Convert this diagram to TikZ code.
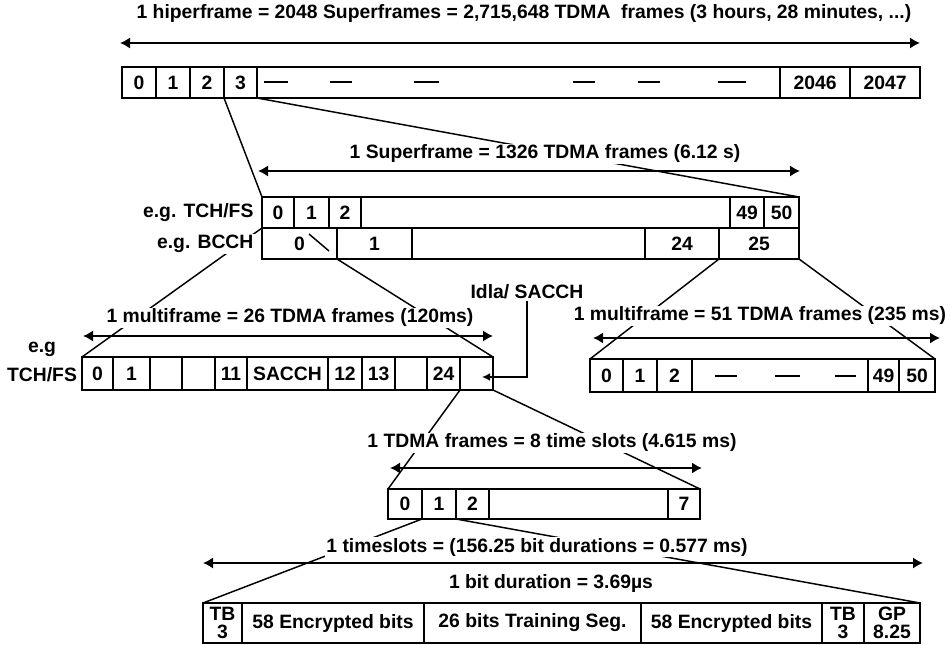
\documentclass[tikz,border=0pt]{standalone}
\usepackage{fontspec}
\setmainfont{Liberation Sans}
\usetikzlibrary{arrows.meta}
\newcommand{\cellbox}[6]{%
  \node[cellnode, minimum width={(#4-#2)*0.75pt}, minimum height={(#5-#3)*0.75pt}] (#1) at ({(#2+#4)/2},{(#3+#5)/2}) {#6};}
\begin{document}
\begin{tikzpicture}[x=0.75pt,y=-0.75pt,
  font=\fontsize{14.5}{16}\selectfont\bfseries,
  cellnode/.style={draw, line width=1.5pt, inner sep=0pt, outer sep=0pt, align=center},
  conn/.style={line width=1.1pt},
  dbl/.style={line width=1.8pt, {Latex[length=7.5pt,width=8.5pt]}-{Latex[length=7.5pt,width=8.5pt]}},
  ttl/.style={fill=white, inner sep=1pt},
  dashln/.style={line width=1.8pt}]
\useasboundingbox (0,0) rectangle (950,645);

% ---------- rows ----------
% hyperframe
\cellbox{h0}{122}{67}{156}{98}{0}
\cellbox{h1}{156}{67}{190}{98}{1}
\cellbox{h2}{190}{67}{224}{98}{2}
\cellbox{h3}{224}{67}{257}{98}{3}
\cellbox{hmid}{257}{67}{780}{98}{}
\cellbox{h2046}{780}{67}{850}{98}{2046}
\cellbox{h2047}{850}{67}{920}{98}{2047}
% superframe TCH/FS
\cellbox{s0}{262}{197}{294}{228}{0}
\cellbox{s1}{294}{197}{329}{228}{1}
\cellbox{s2}{329}{197}{361}{228}{2}
\cellbox{smid}{361}{197}{730}{228}{}
\cellbox{s49}{730}{197}{764}{228}{49}
\cellbox{s50}{764}{197}{799}{228}{50}
% superframe BCCH
\cellbox{b0}{262}{228}{337}{259}{0}
\cellbox{b1}{337}{228}{412}{259}{1}
\cellbox{bmid}{412}{228}{645}{259}{}
\cellbox{b24}{645}{228}{719}{259}{24}
\cellbox{b25}{719}{228}{799}{259}{25}
% left multiframe
\cellbox{m0}{82}{357}{113}{390}{0}
\cellbox{m1}{113}{357}{150}{390}{1}
\cellbox{m2}{150}{357}{182}{390}{}
\cellbox{m3}{182}{357}{215}{390}{}
\cellbox{m11}{215}{357}{247}{390}{11}
\cellbox{msacch}{247}{357}{328}{390}{SACCH}
\cellbox{m12}{328}{357}{362}{390}{12}
\cellbox{m13}{362}{357}{395}{390}{13}
\cellbox{m22}{395}{357}{427}{390}{}
\cellbox{m24}{427}{357}{460}{390}{24}
\cellbox{mlast}{460}{357}{493}{390}{}
% right multiframe
\cellbox{r0}{590}{359}{623}{392}{0}
\cellbox{r1}{623}{359}{657}{392}{1}
\cellbox{r2}{657}{359}{692}{392}{2}
\cellbox{rmid}{692}{359}{868}{392}{}
\cellbox{r49}{868}{359}{899}{392}{49}
\cellbox{r50}{899}{359}{935}{392}{50}
% TDMA frame
\cellbox{t0}{388}{489}{422}{519}{0}
\cellbox{t1}{422}{489}{456}{519}{1}
\cellbox{t2}{456}{489}{489}{519}{2}
\cellbox{tmid}{489}{489}{668}{519}{}
\cellbox{t7}{668}{489}{700}{519}{7}
% time slot
\cellbox{bTBa}{203}{603}{242}{643}{TB\\[-3pt]3}
\cellbox{bEa}{242}{603}{424}{643}{58 Encrypted bits}
\cellbox{bTr}{424}{603}{641}{643}{26 bits Training Seg.}
\cellbox{bEb}{641}{603}{822}{643}{58 Encrypted bits}
\cellbox{bTBb}{822}{603}{864}{643}{TB\\[-3pt]3}
\cellbox{bGP}{864}{603}{920}{643}{GP\\[-3pt]8.25}

% ---------- dashes ----------
\foreach \a/\b in {264/288,330/352,414/439,573/595,638/660,718/746}
  \draw[dashln] (\a,82) -- (\b,82);
\foreach \a/\b in {715/737,775/800,835/856}
  \draw[dashln] (\a,376) -- (\b,376);

% ---------- connectors ----------
\draw[conn] (h3.south west) -- (s0.north west);
\draw[conn] (h3.south east) -- (s50.north east);
\draw[conn] (b0.north west) -- (m0.north west);
\draw[conn] (b0.south east) -- (mlast.north east);
\draw[conn] (309,234) -- (329,251);
\draw[conn] (b24.south east) -- (r0.north west);
\draw[conn] (b25.south east) -- (r50.north east);
\draw[conn] (m24.south east) -- (t0.north west);
\draw[conn] (mlast.south east) -- (t7.north east);
\draw[conn] (t1.south west) -- (bTBa.north west);
\draw[conn] (t1.south east) -- (bGP.north east);

% ---------- titles and labels ----------
\node[ttl] (T1) at (524,14) {1 hiperframe = 2048 Superframes = 2,715,648 TDMA\ \ frames (3 hours, 28 minutes, ...)};
\node[ttl] (T2) at (545,154) {1 Superframe = 1326 TDMA frames (6.12 s)};
\node[ttl, anchor=east] (lt) at (255,213) {e.g. TCH/FS};
\node[ttl, anchor=east] (lb) at (255,244) {e.g. BCCH};
\node[ttl] (T3) at (290,318) {1 multiframe = 26 TDMA frames (120ms)};
\node[ttl] (T4) at (760,316) {1 multiframe = 51 TDMA frames (235 ms)};
\node[ttl, align=center] (eg) at (42,362) {e.g\\[6pt]TCH/FS};
\node[ttl] (idla) at (527,292) {Idla/ SACCH};
\node[ttl] (T5) at (552,443) {1 TDMA frames = 8 time slots (4.615 ms)};
\node[ttl] (T6) at (537,547) {1 timeslots = (156.25 bit durations = 0.577 ms)};
\node[ttl] (T7) at (551,584) {1 bit duration = 3.69µs};

% ---------- span arrows ----------
\coordinate (a1l) at (120,43);  \coordinate (a1r) at (920,43);
\coordinate (a2l) at (258,171); \coordinate (a2r) at (800,171);
\coordinate (a3l) at (83,336);  \coordinate (a3r) at (493,336);
\coordinate (a4l) at (593,338); \coordinate (a4r) at (940,338);
\coordinate (a5l) at (390,468); \coordinate (a5r) at (702,468);
\coordinate (a6l) at (203,563); \coordinate (a6r) at (923,563);
\draw[dbl] (a1l) -- (a1r);
\draw[dbl] (a2l) -- (a2r);
\draw[dbl] (a3l) -- (a3r);
\draw[dbl] (a4l) -- (a4r);
\draw[dbl] (a5l) -- (a5r);
\draw[dbl] (a6l) -- (a6r);

% ---------- Idla/SACCH pointer ----------
\coordinate (idtip) at (482,377);
\draw[conn, line width=1.5pt, -{Latex[length=6pt,width=6pt]}] (idla.south) |- (idtip);
\end{tikzpicture}
\end{document}
